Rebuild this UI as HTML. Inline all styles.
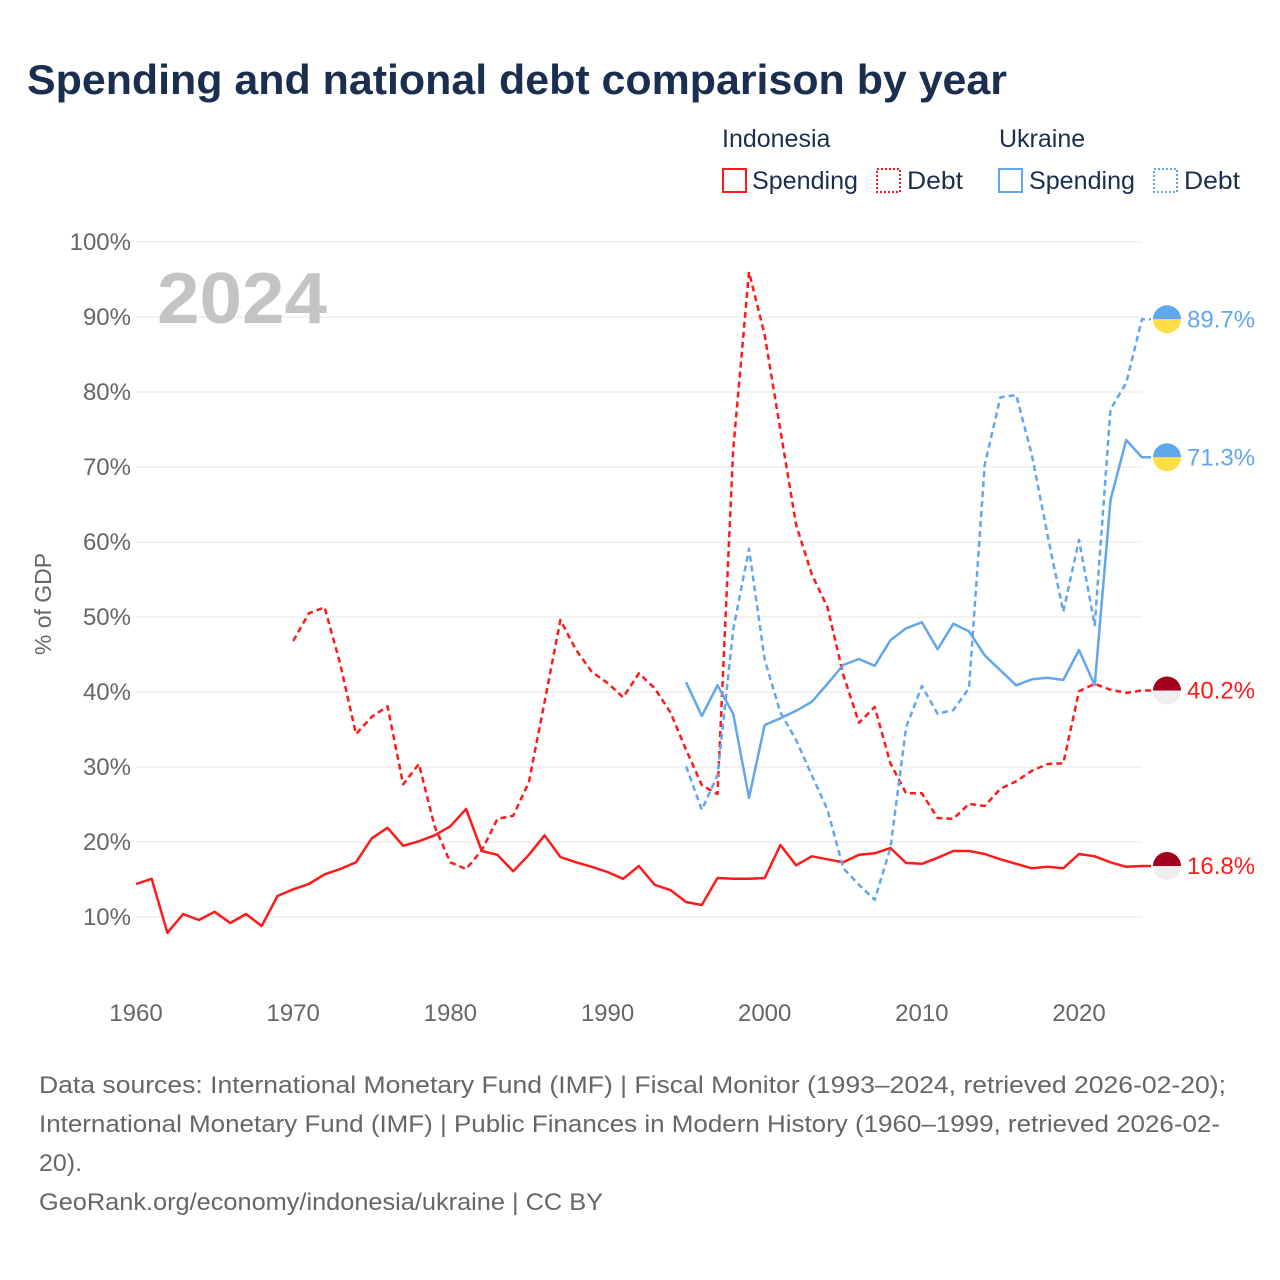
<!DOCTYPE html>
<html><head><meta charset="utf-8"><style>
body{margin:0;background:#fff;}
svg{display:block;font-family:"Liberation Sans",sans-serif;}
</style></head><body>
<svg id="chart" width="1280" height="1280" viewBox="0 0 1280 1280">
<text x="27" y="94" font-size="42" font-weight="bold" fill="#1a2f4f" textLength="980" lengthAdjust="spacingAndGlyphs">Spending and national debt comparison by year</text>
<g font-size="25" fill="#1a2f4f">
<text x="722" y="147">Indonesia</text>
<text x="999" y="147">Ukraine</text>
<g><rect x="723" y="169" width="23" height="23" fill="none" stroke="#ff1a1a" stroke-width="2"/><text x="752" y="189" textLength="106" lengthAdjust="spacingAndGlyphs">Spending</text></g>
<g><rect x="877" y="169" width="23" height="23" fill="none" stroke="#ff1a1a" stroke-width="2" stroke-dasharray="2,2"/><text x="907" y="189" textLength="56" lengthAdjust="spacingAndGlyphs">Debt</text></g>
<g><rect x="999" y="169" width="23" height="23" fill="none" stroke="#62a6ec" stroke-width="2"/><text x="1029" y="189" textLength="106" lengthAdjust="spacingAndGlyphs">Spending</text></g>
<g><rect x="1154" y="169" width="23" height="23" fill="none" stroke="#62a6ec" stroke-width="2" stroke-dasharray="2,2"/><text x="1184" y="189" textLength="56" lengthAdjust="spacingAndGlyphs">Debt</text></g>
</g>
<g id="grid"></g>
<text x="157" y="323" font-size="72" font-weight="bold" fill="#c4c4c4" textLength="170" lengthAdjust="spacingAndGlyphs">2024</text>
<text transform="translate(51,604) rotate(-90)" text-anchor="middle" font-size="23" fill="#666">% of GDP</text>
<g id="series"></g>
<g font-size="24" fill="#666">
<text x="39" y="1093" textLength="1187" lengthAdjust="spacingAndGlyphs">Data sources: International Monetary Fund (IMF) | Fiscal Monitor (1993–2024, retrieved 2026-02-20);</text>
<text x="39" y="1132" textLength="1181" lengthAdjust="spacingAndGlyphs">International Monetary Fund (IMF) | Public Finances in Modern History (1960–1999, retrieved 2026-02-</text>
<text x="39" y="1171" textLength="43" lengthAdjust="spacingAndGlyphs">20).</text>
<text x="39" y="1210" textLength="564" lengthAdjust="spacingAndGlyphs">GeoRank.org/economy/indonesia/ukraine | CC BY</text>
</g>
</svg>
<script>
const yTicks = [10,20,30,40,50,60,70,80,90,100];
const xTicks = [1960,1970,1980,1990,2000,2010,2020];
const idnStartSpending = 1960;
const idnSpending = [14.4,15.1,7.9,10.4,9.6,10.7,9.2,10.4,8.8,12.8,13.7,14.4,15.7,16.4,17.3,20.5,21.9,19.5,20.1,20.9,22.1,24.4,18.8,18.3,16.1,18.3,20.9,18.0,17.3,16.7,16.0,15.1,16.8,14.3,13.6,12.0,11.6,15.2,15.1,15.1,15.2,19.6,16.9,18.1,17.7,17.3,18.3,18.5,19.2,17.2,17.1,17.9,18.8,18.8,18.4,17.7,17.1,16.5,16.7,16.5,18.4,18.1,17.3,16.7,16.8];
const idnStartDebt = 1970;
const idnDebt = [46.8,50.5,51.3,43.7,34.4,36.7,38.1,27.7,30.4,22.1,17.3,16.4,18.9,23.1,23.5,28.0,38.7,49.6,45.6,42.7,41.2,39.3,42.5,40.5,37.3,32.3,27.6,26.4,72.3,96.0,87.6,74.9,62.3,55.7,51.3,42.3,35.9,38.0,30.5,26.5,26.5,23.2,23.1,25.1,24.8,27.1,28.1,29.5,30.4,30.5,40.1,41.1,40.3,39.9,40.2];
const ukrStart = 1995;
const ukrSpending = [41.3,36.8,40.9,37.1,25.9,35.6,36.5,37.5,38.7,41.1,43.6,44.4,43.5,46.9,48.5,49.3,45.7,49.1,48.1,44.9,42.9,40.9,41.7,41.9,41.6,45.6,40.9,65.6,73.6,71.3];
const ukrDebt = [30.1,24.3,28.9,48.3,59.1,44.3,37.3,33.6,28.9,24.3,16.5,14.3,12.3,19.2,35.3,40.8,37.1,37.6,40.5,70.3,79.3,79.6,71.6,60.9,50.7,60.3,48.9,77.7,81.2,89.7];

const NS='http://www.w3.org/2000/svg';
const X = yr => 136 + (yr-1960)*15.717;
const Y = v => 917 - (v-10)*7.5;
const grid = document.getElementById('grid');
const series = document.getElementById('series');
function mk(tag, attrs, parent){const e=document.createElementNS(NS,tag);for(const k in attrs)e.setAttribute(k,attrs[k]);parent.appendChild(e);return e;}
yTicks.forEach(t=>{
  const l=mk('line',{x1:136,x2:1142,y1:Y(t),y2:Y(t),stroke:'#ebebeb','stroke-width':1.3},grid);
  
  
  const tx=mk('text',{x:131,y:Y(t)+8,'text-anchor':'end','font-size':24,fill:'#666'},grid);
  tx.textContent=t+'%';
  
  
});
xTicks.forEach(t=>{
  const tx=mk('text',{x:X(t),y:1021,'text-anchor':'middle','font-size':24,fill:'#666'},grid);
  tx.textContent=t;
  
  
});
function line(vals,start,color,dash,name){
  let pts=vals.map((v,i)=>X(start+i).toFixed(1)+','+Y(v).toFixed(1)).join(' ');
  pts += ' 1151,'+Y(vals[vals.length-1]).toFixed(1);
  const p=mk('polyline',{points:pts,fill:'none',stroke:color,'stroke-width':2.5,'stroke-linejoin':'round'},series);
  if(dash)p.setAttribute('stroke-dasharray','6,4');
  
  
}
line(idnSpending,idnStartSpending,'#ff1a1a',false,'indonesia-spending-line');
line(idnDebt,idnStartDebt,'#ff1a1a',true,'indonesia-debt-line');
line(ukrSpending,ukrStart,'#62a6ec',false,'ukraine-spending-line');
line(ukrDebt,ukrStart,'#62a6ec',true,'ukraine-debt-line');
function endMarker(v,top,bot,color,name){
  const cx=1167, cy=Y(v), r=14;
  const g=mk('g',{},series);
  
  
  mk('path',{d:`M${cx-r},${cy} A${r},${r} 0 0 1 ${cx+r},${cy} Z`,fill:top},g);
  mk('path',{d:`M${cx-r},${cy} A${r},${r} 0 0 0 ${cx+r},${cy} Z`,fill:bot},g);
  const t=mk('text',{x:1187,y:cy+8,'font-size':24,fill:color},g);
  t.textContent=v.toFixed(1)+'%';
}
endMarker(ukrDebt[ukrDebt.length-1],'#5fa8ec','#ffdd44','#62a6ec','ukraine-debt-end-label');
endMarker(ukrSpending[ukrSpending.length-1],'#5fa8ec','#ffdd44','#62a6ec','ukraine-spending-end-label');
endMarker(idnDebt[idnDebt.length-1],'#a3001f','#eeeeee','#ff1a1a','indonesia-debt-end-label');
endMarker(idnSpending[idnSpending.length-1],'#a3001f','#eeeeee','#ff1a1a','indonesia-spending-end-label');
</script>
</body></html>
